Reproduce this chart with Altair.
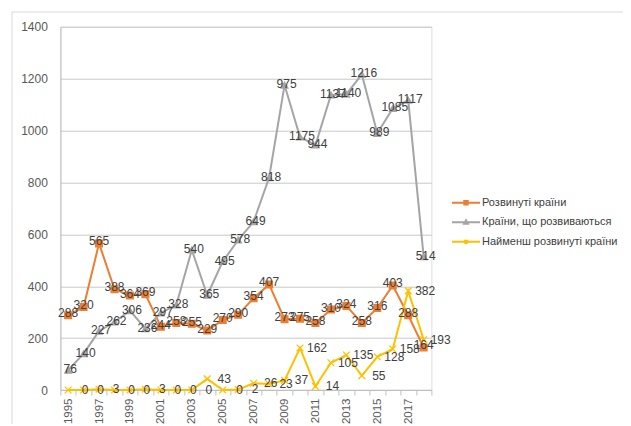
import altair as alt
import pandas as pd

years = [str(y) for y in range(1995, 2019)]
series_names = ["Розвинуті країни", "Країни, що розвиваються", "Найменш розвинуті країни"]
colors = ["#ED7D31", "#A5A5A5", "#FFC000"]

developed = [288, 320, 565, 388, 364, 369, 244, 258, 255, 229, 270, 290, 354, 407,
             273, 275, 258, 310, 324, 258, 316, 403, 288, 164]
developing = [76, 140, 227, 262, 306, 236, 297, 328, 540, 365, 495, 578, 649, 818,
              1175, 975, 944, 1137, 1140, 1216, 989, 1085, 1117, 514]
developing_labels = [76, 140, 227, 262, 306, 236, 297, 328, 540, 365, 495, 578, 649, 818,
                     975, 1175, 944, 1137, 1140, 1216, 989, 1085, 1117, 514]
least = [0, 0, 3, 0, 0, 3, 0, 0, 0, 43, 0, 2, 26, 23, 37, 162, 14, 105, 135, 55,
         128, 158, 382, 193]
least_labels = least

y_ticks = [0, 200, 400, 600, 800, 1000, 1200, 1400]

rows = []
for name, vals, labs in [(series_names[0], developed, developed),
                         (series_names[1], developing, developing_labels),
                         (series_names[2], least, least_labels)]:
    for y, v, l in zip(years, vals, labs):
        rows.append({"year": y, "value": v, "label": str(l), "series": name})
df = pd.DataFrame(rows)

FONT = "Liberation Sans"
W, H = 371, 363.3

xenc = alt.X("year:O", title=None,
             scale=alt.Scale(type="band", paddingInner=0, paddingOuter=0),
             axis=alt.Axis(labelAngle=270, labelExpr="toNumber(datum.value) % 2 == 1 ? datum.value : ''",
                           tickBand="extent", tickSize=5, labelPadding=3, labelFontSize=11.5,
                           domainColor="#bfbfbf", tickColor="#bfbfbf", labelColor="#595959",
                           labelFont=FONT, grid=False))
yenc = alt.Y("value:Q", title=None,
             scale=alt.Scale(domain=[0, 1400], nice=False),
             axis=alt.Axis(values=y_ticks, format="d", tickSize=0, labelPadding=13, labelFontSize=12,
                           labelColor="#595959", labelFont=FONT, grid=True, gridColor="#c8c8c8",
                           domainColor="#bfbfbf"))

cscale = alt.Scale(domain=series_names, range=colors)
pt_shapes = ["square", "triangle-up", "M-1,-1L1,1M-1,1L1,-1"]
lg_shapes = ["M-1.4,0L1.4,0M-0.17,-0.17L0.17,-0.17L0.17,0.17L-0.17,0.17Z",
             "M-1.4,0L1.4,0M0,-0.2L0.2,0.16L-0.2,0.16Z",
             "M-1.4,0L1.4,0M-0.17,-0.17L0.17,0.17M-0.17,0.17L0.17,-0.17"]

base = alt.Chart(df)

border = alt.Chart(alt.Data(values=[{"a": 1}])).mark_rect(
    fillOpacity=0, stroke="#d9d9d9", strokeWidth=1
).encode(x=alt.value(-48.4), x2=alt.value(700), y=alt.value(-14.7), y2=alt.value(500))

lines = base.mark_line(strokeWidth=2).encode(
    x=xenc, y=yenc,
    stroke=alt.Stroke("series:N", scale=cscale, legend=None),
    detail="series:N")

points = base.mark_point(filled=True, opacity=1, size=45, strokeWidth=1.3).encode(
    x=xenc, y=yenc,
    fill=alt.Fill("series:N", scale=cscale, legend=None),
    stroke=alt.Stroke("series:N", scale=cscale, legend=None),
    shape=alt.Shape("series:N", scale=alt.Scale(domain=series_names, range=pt_shapes), legend=None))

legend_def = alt.Legend(title=None, orient="none", legendX=394.6, legendY=165,
                        symbolSize=400, symbolStrokeWidth=2, labelFontSize=11,
                        labelFont=FONT, labelColor="#404040", labelOffset=5,
                        rowPadding=2.5, padding=0)
legend_layer = base.transform_filter("false").mark_point(filled=True, opacity=1).encode(
    fill=alt.Fill("series:N", scale=cscale, legend=legend_def),
    stroke=alt.Stroke("series:N", scale=cscale, legend=legend_def),
    shape=alt.Shape("series:N", scale=alt.Scale(domain=series_names, range=lg_shapes),
                    legend=legend_def))

def labels(name, dx, dy):
    return base.transform_filter(alt.datum.series == name).mark_text(
        font=FONT, fontSize=12, color="#404040", align="center", baseline="middle",
        dx=dx, dy=dy).encode(x=xenc, y=yenc, text="label:N")

chart = alt.layer(
    border, lines, points,
    labels(series_names[0], 0, -2),
    labels(series_names[1], 2, -1),
    labels(series_names[2], 17, 0),
    legend_layer
).resolve_scale(
    shape="independent", fill="independent", stroke="independent"
).resolve_legend(
    shape="independent", fill="independent", stroke="independent"
).properties(
    width=W, height=H,
    autosize=alt.AutoSizeParams(type="none"),
    padding={"left": 52.4, "top": 18.7, "right": 191.6, "bottom": 34}
).configure_view(stroke=None).configure(background="white")

chart.save("out.html", embed_options={"renderer": "svg", "actions": False})
